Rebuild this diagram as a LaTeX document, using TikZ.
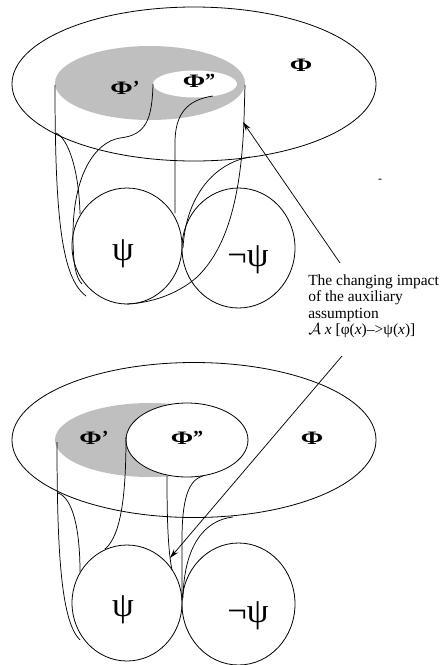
\documentclass[tikz,border=0pt]{standalone}
\usepackage{fontspec}
\setmainfont{Liberation Serif}
\usetikzlibrary{arrows.meta}
\tikzset{
  rim/.style={line width=0.6pt},
  edge/.style={line width=0.55pt},
  shade/.style={fill=black!25},
  ptr/.style={-{Stealth[length=7pt,width=4pt]},line width=0.55pt},
  philbl/.style={font=\fontsize{15}{15}\bfseries},
  psilbl/.style={font=\fontsize{26}{26}\selectfont},
  note/.style={font=\fontsize{11.6}{12.4}\selectfont,align=left,inner sep=0pt,anchor=north west},
}
\newcommand{\wphi}[1]{\scalebox{1.35}[0.95]{Φ}#1}

\begin{document}
\begin{tikzpicture}[x=0.75pt,y=-0.75pt]
  \useasboundingbox (0,0) rectangle (444,665);

  % ---- upper picture ----
  \fill[shade] (150,83) ellipse [x radius=95, y radius=37];
  \fill[white] (195,84) ellipse [x radius=42, y radius=13.5];
  \draw[rim] (194,84) ellipse [x radius=182, y radius=77];
  \draw[rim] (127,246) ellipse [x radius=55, y radius=58];
  \draw[rim] (238.5,248) ellipse [x radius=56.5, y radius=60];
  \node[philbl] (phiA) at (301,65) {\wphi{}};
  \node[philbl] (phiA1) at (125,88) {\wphi{’}};
  \node[philbl] (phiA2) at (199,81) {\wphi{”}};
  \node[psilbl] (psiA) at (123,254) {ψ};
  \node[psilbl] (npsiA) at (248,260) {¬ψ};
  \node[font=\small] (dash) at (380,181) {-};
  \draw[edge] (55,85) .. controls (55,220) and (62,278) .. (86,296);
  \draw[edge] (56,133) .. controls (68,138) and (79,170) .. (80,214);
  \draw[edge] (153,84) .. controls (152,120) and (146,135) .. (120,138)
    .. controls (95,142) and (73,175) .. (73,235) .. controls (73,265) and (76,278) .. (82,284);
  \draw[edge] (213,96) .. controls (186,100) and (175,115) .. (175,143) -- (175,213);
  \draw[edge] (245,85) -- (244,120) .. controls (241,200) and (226,250) .. (196,278)
    .. controls (176,295) and (150,303) .. (127,304);
  \draw[edge] (250,157) .. controls (215,163) and (186,195) .. (183,248);

  % ---- lower picture ----
  \fill[shade] (150,440) ellipse [x radius=95, y radius=37];
  \draw[rim] (194,440) ellipse [x radius=182, y radius=77.5];
  \draw[rim,fill=white] (187,440) ellipse [x radius=61, y radius=37];
  \draw[rim] (127,603) ellipse [x radius=55, y radius=58];
  \draw[rim] (238.5,604) ellipse [x radius=56.5, y radius=61];
  \node[philbl] (phiB) at (312,438) {\wphi{}};
  \node[philbl] (phiB1) at (94,438) {\wphi{’}};
  \node[philbl] (phiB2) at (187,438) {\wphi{”}};
  \node[psilbl] (psiB) at (123,610) {ψ};
  \node[psilbl] (npsiB) at (248,616) {¬ψ};
  \draw[edge] (57,442) .. controls (57,560) and (62,622) .. (80,640);
  \draw[edge] (58,493) .. controls (73,498) and (80,530) .. (80,572);
  \draw[edge] (126,437) .. controls (126,490) and (122,535) .. (105,549);
  \draw[edge] (167,476) .. controls (167,520) and (168,550) .. (172,570);
  \draw[edge] (203,476) .. controls (188,480) and (182,500) .. (182,540) -- (182,600);
  \draw[edge] (233,517) .. controls (205,520) and (184,545) .. (183,598);

  % ---- note and pointers ----
  \node[note] (txt) at (308,274) {The changing impact\\of the auxiliary\\assumption\\
    $\mathcal{A}$ \textit{x} [φ(\textit{x})\textendash>ψ(\textit{x})]};
  \coordinate (tailA) at (340,263);
  \coordinate (tipA) at (243,122);
  \coordinate (tailB) at (342,356);
  \coordinate (tipB) at (170,558);
  \draw[ptr] (tailA) -- (tipA);
  \draw[ptr] (tailB) -- (tipB);
\end{tikzpicture}
\end{document}
